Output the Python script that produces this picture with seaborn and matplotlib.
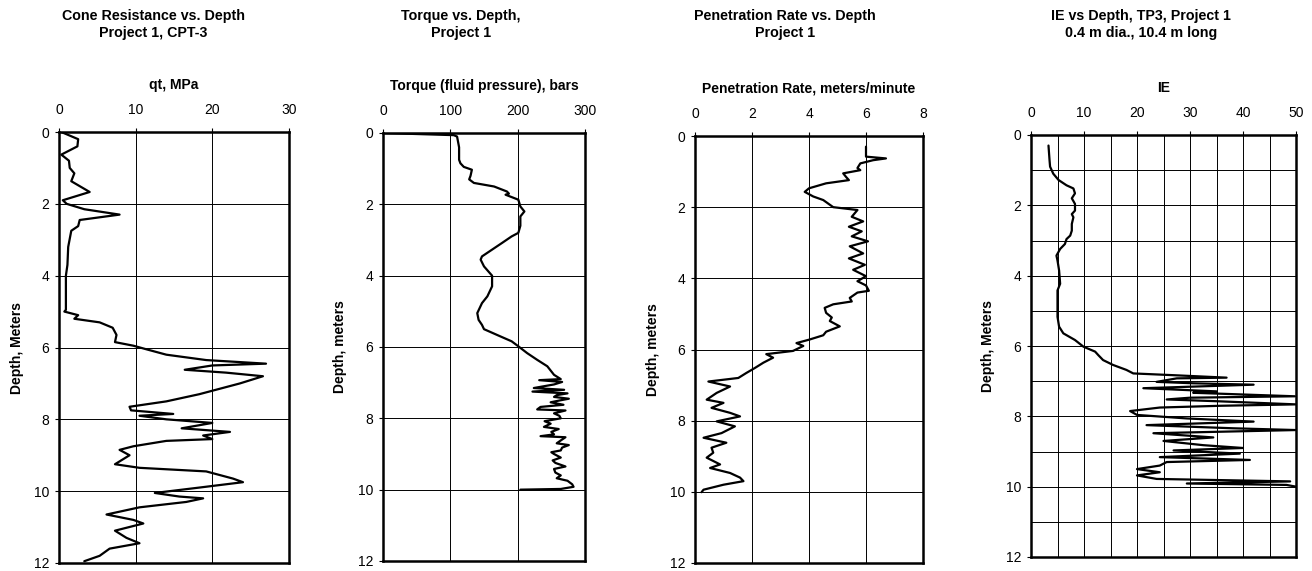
import matplotlib
matplotlib.use("Agg")
import matplotlib.pyplot as plt
import seaborn as sns
from matplotlib.ticker import MultipleLocator

# --- data (depth in m) ---
qt_depth = [0.0, 0.2, 0.4, 0.63, 0.8, 1.0, 1.15, 1.37, 1.67, 1.9, 2.0, 2.15, 2.3, 2.45, 2.62,
            2.75, 3.2, 3.7, 4.0, 4.95, 5.0, 5.1, 5.2, 5.3, 5.45, 5.65, 5.85, 5.95, 6.05, 6.2,
            6.35, 6.45, 6.5, 6.62, 6.7, 6.8, 7.0, 7.3, 7.5, 7.65, 7.75, 7.85, 7.9, 8.0, 8.1,
            8.25, 8.35, 8.45, 8.55, 8.6, 8.75, 8.85, 9.0, 9.25, 9.35, 9.45, 9.65, 9.75, 9.9,
            10.05, 10.15, 10.2, 10.3, 10.45, 10.65, 10.8, 10.9, 11.1, 11.3, 11.45, 11.6, 11.8, 11.95]
qt_mpa = [0.3, 2.5, 2.4, 0.3, 1.3, 1.4, 2.0, 1.6, 4.0, 0.5, 1.0, 3.3, 7.9, 2.7, 2.5,
          1.6, 1.2, 1.1, 0.9, 0.9, 0.7, 2.5, 2.0, 5.3, 7.0, 7.5, 7.3, 9.7, 11.4, 14.0,
          19.2, 27.0, 20.0, 16.4, 21.8, 26.6, 23.6, 18.3, 14.0, 9.2, 9.4, 14.9, 10.5, 14.0, 20.0,
          16.0, 22.3, 18.8, 20.0, 14.0, 9.7, 7.9, 9.2, 7.3, 10.5, 19.2, 22.7, 24.0, 18.3,
          12.5, 15.7, 18.8, 16.6, 10.5, 6.2, 9.7, 11.0, 7.3, 8.8, 10.5, 6.6, 5.3, 3.3]

tq_depth = [0.0, 0.06, 0.1, 0.4, 0.75, 0.85, 0.95, 1.03, 1.2, 1.3, 1.4, 1.5, 1.64, 1.7, 1.73,
            1.87, 2.06, 2.2, 2.34, 2.6, 2.8, 2.9, 3.08, 3.27, 3.46, 3.55, 3.74, 4.0, 4.3, 4.58,
            4.77, 5.05, 5.24, 5.38, 5.5, 5.7, 5.84, 5.98, 6.17, 6.36, 6.54, 6.78, 6.9, 6.93,
            6.98, 7.05, 7.15, 7.2, 7.25, 7.3, 7.35, 7.4, 7.45, 7.5, 7.55, 7.62, 7.68, 7.75,
            7.78, 7.86, 7.93, 8.0, 8.08, 8.15, 8.24, 8.3, 8.38, 8.45, 8.5, 8.53, 8.62, 8.7,
            8.75, 8.82, 8.9, 8.95, 9.0, 9.1, 9.18, 9.25, 9.35, 9.42, 9.52, 9.6, 9.68, 9.75,
            9.85, 9.92, 9.98, 10.0]
tq_bars = [0, 105, 110, 113, 113, 115, 120, 132, 130, 128, 135, 165, 184, 187, 182,
           201, 204, 210, 204, 204, 201, 191, 177, 162, 147, 145, 150, 162, 162, 155,
           147, 140, 142, 147, 150, 174, 191, 201, 214, 229, 244, 254, 264, 232,
           266, 254, 224, 269, 222, 274, 258, 254, 276, 262, 249, 268, 234, 229,
           271, 254, 262, 264, 240, 249, 239, 261, 250, 254, 234, 271, 264, 258,
           276, 266, 264, 250, 254, 264, 252, 256, 271, 254, 256, 264, 258, 274,
           281, 283, 264, 204]

pr_depth = [0.3, 0.58, 0.63, 0.68, 0.77, 0.9, 0.96, 1.05, 1.15, 1.24, 1.33, 1.47, 1.57, 1.7,
            1.8, 2.0, 2.08, 2.27, 2.4, 2.55, 2.68, 2.82, 2.96, 3.1, 3.3, 3.44, 3.62, 3.76,
            3.94, 4.08, 4.2, 4.35, 4.4, 4.55, 4.65, 4.73, 4.83, 4.97, 5.1, 5.2, 5.35, 5.5,
            5.6, 5.72, 5.82, 5.9, 6.04, 6.13, 6.23, 6.37, 6.52, 6.66, 6.8, 6.9, 7.04, 7.22,
            7.41, 7.5, 7.64, 7.78, 7.88, 8.02, 8.16, 8.35, 8.48, 8.62, 8.76, 8.9, 9.04, 9.23,
            9.33, 9.47, 9.6, 9.7, 9.8, 9.94, 10.01]
pr_rate = [6.0, 6.0, 6.7, 6.25, 5.8, 5.7, 5.8, 5.2, 5.3, 5.4, 4.6, 4.0, 3.85, 4.15,
           4.5, 4.85, 5.7, 5.5, 5.9, 5.4, 5.85, 5.5, 6.07, 5.43, 5.9, 5.4, 5.96, 5.55,
           6.0, 5.7, 6.0, 6.1, 5.7, 5.43, 5.5, 4.85, 4.55, 4.6, 4.8, 4.73, 5.08, 4.6,
           4.5, 4.02, 3.56, 3.8, 3.44, 2.5, 2.74, 2.4, 2.1, 1.8, 1.52, 0.47, 1.23, 0.76,
           0.41, 1.0, 0.58, 1.23, 1.58, 0.76, 1.4, 0.93, 0.3, 1.1, 0.58, 0.64, 0.41, 0.88,
           0.53, 1.23, 1.58, 1.7, 1.0, 0.3, 0.23]

ie_depth = [0.3, 0.72, 0.9, 1.1, 1.28, 1.43, 1.52, 1.66, 1.8, 1.96, 2.15, 2.25, 2.34, 2.53,
            2.72, 2.86, 2.96, 3.1, 3.24, 3.43, 3.57, 3.85, 4.23, 4.42, 4.7, 5.17, 5.45, 5.64,
            5.83, 6.02, 6.16, 6.26, 6.4, 6.54, 6.68, 6.78, 6.83, 6.9, 6.92, 7.02, 7.06, 7.1,
            7.2, 7.29, 7.33, 7.43, 7.47, 7.52, 7.57, 7.66, 7.7, 7.75, 7.85, 7.96, 8.06, 8.15,
            8.25, 8.34, 8.39, 8.48, 8.6, 8.7, 8.82, 8.9, 8.97, 9.06, 9.16, 9.24, 9.3, 9.4,
            9.5, 9.59, 9.68, 9.78, 9.85, 9.91, 9.95, 10.0]
ie_val = [3.3, 3.5, 3.6, 4.2, 5.2, 6.7, 8.0, 8.3, 7.7, 8.3, 8.3, 7.7, 8.0, 7.7,
          7.7, 7.4, 6.7, 6.4, 5.5, 4.8, 5.0, 5.3, 5.5, 5.0, 5.0, 5.0, 5.3, 6.1,
          8.3, 9.9, 12.1, 12.7, 13.6, 15.5, 18.0, 19.3, 26.9, 36.9, 27.5, 23.7, 30.6, 42.0,
          21.2, 35.0, 30.6, 49.8, 30.0, 25.6, 35.0, 50.0, 35.7, 24.3, 18.7, 20.0, 29.4, 42.0,
          21.8, 38.2, 50.0, 23.1, 34.4, 25.0, 32.5, 40.0, 26.9, 39.4, 24.3, 41.3, 25.6, 24.3,
          20.0, 24.3, 20.0, 23.7, 48.9, 29.4, 48.2, 50.0]

panels = [
    dict(x=qt_mpa, y=qt_depth, xmax=30, xstep=10, xminor=None, yminor=None,
         xlabel="qt, MPa", ylabel="Depth, Meters",
         title="Cone Resistance vs. Depth\nProject 1, CPT-3", tx=153, ylx=17,
         rect=[59, 132, 289, 563]),
    dict(x=tq_bars, y=tq_depth, xmax=300, xstep=100, xminor=None, yminor=None,
         xlabel="Torque (fluid pressure), bars", ylabel="Depth, meters",
         title="Torque vs. Depth,\nProject 1", tx=461, ylx=340,
         rect=[383, 133, 585, 561]),
    dict(x=pr_rate, y=pr_depth, xmax=8, xstep=2, xminor=None, yminor=None,
         xlabel="Penetration Rate, meters/minute", ylabel="Depth, meters",
         title="Penetration Rate vs. Depth\nProject 1", tx=785, ylx=653,
         rect=[695, 136, 923, 563]),
    dict(x=ie_val, y=ie_depth, xmax=50, xstep=10, xminor=5, yminor=1,
         xlabel="IE", ylabel="Depth, Meters",
         title="IE vs Depth, TP3, Project 1\n0.4 m dia., 10.4 m long", tx=1141, ylx=988,
         rect=[1031, 135, 1296, 557]),
]

sns.set_style("white")
plt.rcParams["font.family"] = ["Liberation Sans", "DejaVu Sans"]
plt.rcParams.update({"text.color": "black", "axes.labelcolor": "black",
                     "xtick.color": "black", "ytick.color": "black"})

W, H = 1312, 571
fig = plt.figure(figsize=(W / 100, H / 100), dpi=100)

for p in panels:
    l, t, r, b = p["rect"]
    ax = fig.add_axes([l / W, 1 - b / H, (r - l) / W, (b - t) / H])
    sns.lineplot(x=p["x"], y=p["y"], sort=False, estimator=None, color="black",
                 linewidth=1.6, ax=ax)
    ax.set_xlim(0, p["xmax"])
    ax.set_ylim(12, 0)
    ax.xaxis.set_major_locator(MultipleLocator(p["xstep"]))
    ax.yaxis.set_major_locator(MultipleLocator(2))
    if p["xminor"]:
        ax.xaxis.set_minor_locator(MultipleLocator(p["xminor"]))
        ax.yaxis.set_minor_locator(MultipleLocator(p["yminor"]))
        ax.grid(which="minor", color="black", linewidth=0.7)
    ax.grid(which="major", color="black", linewidth=0.7)
    ax.xaxis.tick_top()
    ax.xaxis.set_label_position("top")
    ax.tick_params(axis="both", which="major", direction="out", length=3, width=0.8,
                   labelsize=10, pad=4, color="black", labelcolor="black",
                   left=True, top=True)
    ax.tick_params(axis="x", which="major", pad=8)
    ax.tick_params(axis="both", which="minor", length=0)
    for s in ax.spines.values():
        s.set_color("black")
        s.set_linewidth(1.8)
    ax.set_xlabel(p["xlabel"], fontsize=10, fontweight="bold", labelpad=10, color="black")
    ax.set_ylabel("")
    fig.text(p["ylx"] / W, 1 - (t + b) / 2 / H, p["ylabel"], rotation=90,
             ha="center", va="center", fontsize=10, fontweight="bold", color="black")
    fig.text(p["tx"] / W, 1 - 24.5 / H, p["title"], ha="center", va="center",
             fontsize=10.3, fontweight="bold", linespacing=1.35, color="black")

fig.savefig("out.png", dpi=100)
